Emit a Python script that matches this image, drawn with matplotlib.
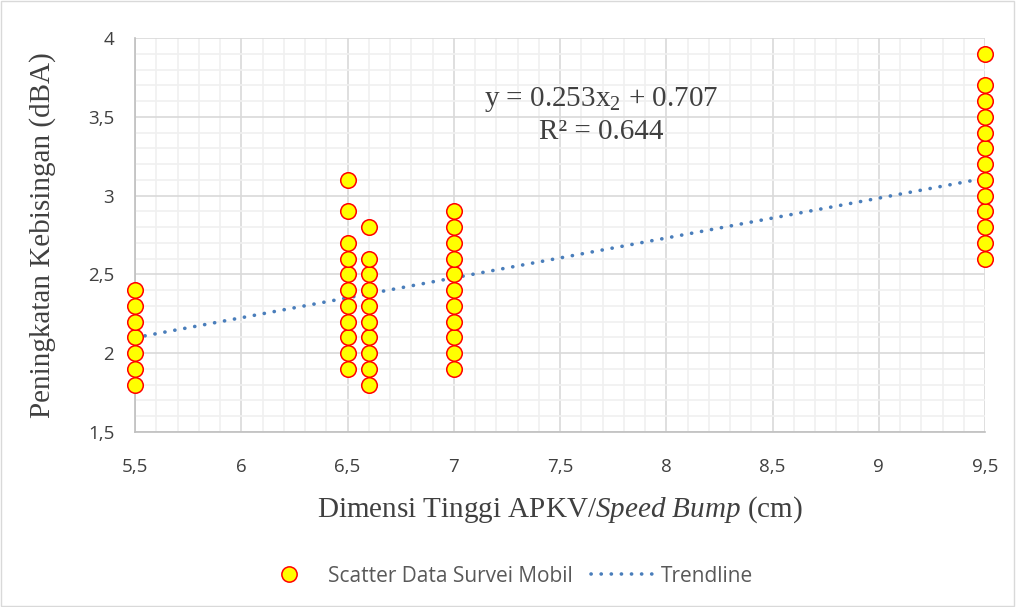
import numpy as np
import matplotlib
matplotlib.use("Agg")
import matplotlib.pyplot as plt
from matplotlib.ticker import MultipleLocator, FuncFormatter
from matplotlib.lines import Line2D
from matplotlib.patches import Rectangle

# survey data: bump height (cm) -> noise increase (dBA)
x_55 = [5.5] * 7
y_55 = [1.8, 1.9, 2.0, 2.1, 2.2, 2.3, 2.4]
x_65 = [6.5] * 11
y_65 = [1.9, 2.0, 2.1, 2.2, 2.3, 2.4, 2.5, 2.6, 2.7, 2.9, 3.1]
x_66 = [6.6] * 10
y_66 = [1.8, 1.9, 2.0, 2.1, 2.2, 2.3, 2.4, 2.5, 2.6, 2.8]
x_70 = [7.0] * 11
y_70 = [1.9, 2.0, 2.1, 2.2, 2.3, 2.4, 2.5, 2.6, 2.7, 2.8, 2.9]
x_95 = [9.5] * 13
y_95 = [2.6, 2.7, 2.8, 2.9, 3.0, 3.1, 3.2, 3.3, 3.4, 3.5, 3.6, 3.7, 3.9]

slope = 0.253
intercept = 0.707
r2 = 0.644

xs = x_55 + x_65 + x_66 + x_70 + x_95
ys = y_55 + y_65 + y_66 + y_70 + y_95

plt.rcParams['mathtext.fontset'] = 'custom'
plt.rcParams['mathtext.rm'] = 'Liberation Serif'
plt.rcParams['mathtext.it'] = 'Liberation Serif:italic'

fig = plt.figure(figsize=(10.16, 6.07), dpi=100)
ax = fig.add_axes([0.1329, 0.2883, 0.8366, 0.6491])

ax.set_xlim(5.5, 9.5)
ax.set_ylim(1.5, 4)
ax.xaxis.set_major_locator(MultipleLocator(0.5))
ax.yaxis.set_major_locator(MultipleLocator(0.5))
ax.xaxis.set_minor_locator(MultipleLocator(0.1))
ax.yaxis.set_minor_locator(MultipleLocator(0.1))
ax.grid(which='minor', color='#f0f0f0', lw=1.2, zorder=0)
ax.grid(which='major', color='#d9d9d9', lw=1.2, zorder=0)
ax.set_axisbelow(True)

fmt = FuncFormatter(lambda v, p: ('%g' % v).replace('.', ','))
ax.xaxis.set_major_formatter(fmt)
ax.yaxis.set_major_formatter(fmt)
ax.tick_params(which='both', length=0, labelsize=13.5, colors='#404040')
ax.tick_params(axis='y', pad=15)
ax.tick_params(axis='x', pad=19)
for lab in ax.get_xticklabels() + ax.get_yticklabels():
    lab.set_fontfamily('Open Sans')

for s in ['top', 'right']:
    ax.spines[s].set_visible(False)
for s in ['left', 'bottom']:
    ax.spines[s].set_color('#bfbfbf')
    ax.spines[s].set_linewidth(1.2)

tx = np.array([5.5, 9.5])
ax.plot(tx, slope * tx + intercept, color='#4a7ebb', lw=2.6, ls=(0, (0.05, 2.75)),
        dash_capstyle='round', zorder=3)
ax.scatter(xs, ys, s=125, facecolor='#ffff00', edgecolor='#ff0000', linewidths=1.1,
           zorder=4, clip_on=False)

ax.text(0.549, 0.843, r'y = 0.%dx$_2$ + 0.%d' % (slope * 1000, intercept * 1000),
        transform=ax.transAxes, ha='center', va='center', fontsize=21,
        family='Liberation Serif', color='#404040')
ax.text(0.549, 0.762, 'R² = %.3f' % r2, transform=ax.transAxes, ha='center',
        va='center', fontsize=21, family='Liberation Serif', color='#404040')

ax.set_xlabel(r'Dimensi Tinggi APKV/$\mathit{Speed\ Bump}$ (cm)', fontsize=21,
              family='Liberation Serif', color='#404040', labelpad=13)
ax.set_ylabel('Peningkatan Kebisingan (dBA)', fontsize=21, family='Liberation Serif',
              color='#404040', labelpad=23)

handles = [
    Line2D([], [], ls='none', marker='o', ms=11, mfc='#ffff00', mec='#ff0000', mew=1.1),
    Line2D([], [], color='#4a7ebb', lw=2.6, ls=(0, (0.05, 2.75)), dash_capstyle='round'),
]
fig.legend(handles, ['Scatter Data Survei Mobil', 'Trendline'], loc='center',
           bbox_to_anchor=(0.4975, 0.051), ncol=2, frameon=False,
           prop={'family': 'Open Sans', 'size': 15}, labelcolor='#595959',
           handlelength=3.0, handletextpad=0.38, columnspacing=0.85)

fig.patches.append(Rectangle((0.001, 0.002), 0.997, 0.996, transform=fig.transFigure,
                             fill=False, edgecolor='#d9d9d9', lw=1))

fig.savefig('out.png', dpi=100)
